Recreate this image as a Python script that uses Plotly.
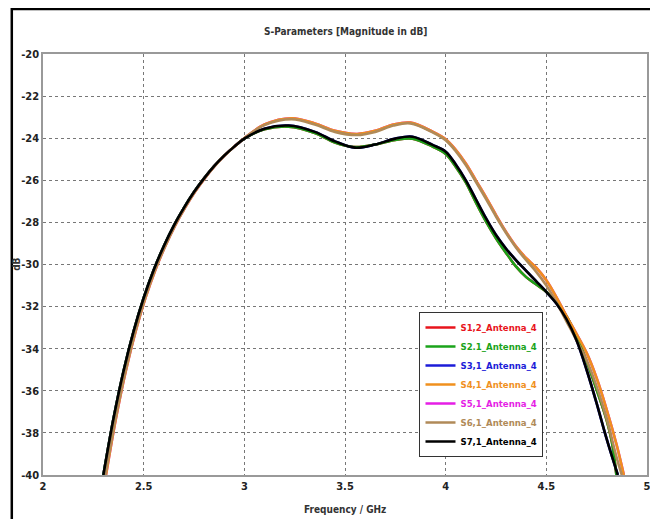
import plotly.graph_objects as go

# ---- data ----
f_left = [2.300, 2.350, 2.400, 2.450, 2.500, 2.550, 2.600, 2.650, 2.700, 2.750, 2.800, 2.850, 2.900, 2.950]
db_left = [-40, -37.33, -35.07, -33.18, -31.59, -30.26, -29.13, -28.15, -27.31, -26.56, -25.91, -25.33, -24.83, -24.40]

f_s71 = f_left + [3.000, 3.100, 3.220, 3.350, 3.450, 3.550, 3.650, 3.750, 3.835, 3.935,
                  4.000, 4.050, 4.100, 4.150, 4.200, 4.250, 4.300, 4.350, 4.400, 4.450, 4.500,
                  4.550, 4.600, 4.650, 4.700, 4.750, 4.800, 4.855]
s71 = db_left + [-24.02, -23.55, -23.4, -23.7, -24.15, -24.45, -24.3, -24.02, -23.93, -24.32,
                 -24.64, -25.25, -26.0, -26.9, -27.8, -28.6, -29.25, -29.8, -30.3, -30.8, -31.3,
                 -31.85, -32.6, -33.6, -35.0, -36.6, -38.3, -40]

f_s21 = f_left + [3.000, 3.100, 3.220, 3.350, 3.450, 3.550, 3.650, 3.750, 3.835, 3.935,
                  4.000, 4.050, 4.100, 4.150, 4.200, 4.250, 4.300, 4.350, 4.400, 4.450, 4.500,
                  4.550, 4.600, 4.650, 4.700, 4.750, 4.800, 4.825, 4.848]
s21 = db_left + [-24.02, -23.58, -23.45, -23.75, -24.2, -24.42, -24.3, -24.08, -24.02, -24.4,
                 -24.75, -25.35, -26.1, -27.05, -27.95, -28.75, -29.45, -30.1, -30.6, -30.95, -31.3,
                 -31.8, -32.45, -33.4, -34.6, -35.95, -37.4, -38.4, -40]

f_s41 = [2.313, 2.362, 2.411, 2.460, 2.509, 2.558, 2.607, 2.656, 2.705, 2.754, 2.803, 2.852, 2.901, 2.950,
         3.000, 3.100, 3.235, 3.350, 3.450, 3.560, 3.650, 3.740, 3.825, 3.935,
         4.000, 4.050, 4.100, 4.150, 4.200, 4.250, 4.300, 4.350, 4.400, 4.450, 4.500,
         4.550, 4.600, 4.650, 4.700, 4.750, 4.800, 4.850, 4.885]
s41 = db_left + [-24.0, -23.35, -23.05, -23.3, -23.65, -23.8, -23.65, -23.35, -23.26, -23.69,
                 -24.05, -24.55, -25.2, -26.0, -26.8, -27.65, -28.45, -29.15, -29.7, -30.15, -30.75,
                 -31.55, -32.45, -33.3, -34.2, -35.4, -36.9, -38.6, -40]

f_s61 = [2.310, 2.360, 2.409, 2.458, 2.507, 2.556, 2.606, 2.655, 2.704, 2.753, 2.802, 2.852, 2.901, 2.950,
         3.000, 3.100, 3.235, 3.350, 3.450, 3.560, 3.650, 3.740, 3.825, 3.935,
         4.000, 4.050, 4.100, 4.150, 4.200, 4.250, 4.300, 4.350, 4.400, 4.450, 4.500,
         4.550, 4.600, 4.650, 4.700, 4.750, 4.800, 4.850, 4.875]
s61 = db_left + [-24.0, -23.38, -23.1, -23.35, -23.7, -23.85, -23.7, -23.4, -23.3, -23.72,
                 -24.1, -24.62, -25.28, -26.07, -26.88, -27.72, -28.5, -29.2, -29.8, -30.35, -31.0,
                 -31.8, -32.7, -33.6, -34.55, -35.8, -37.35, -39.2, -40]

names = ["S1,2_Antenna_4", "S2.1_Antenna_4", "S3,1_Antenna_4", "S4,1_Antenna_4",
         "S5,1_Antenna_4", "S6,1_Antenna_4", "S7,1_Antenna_4"]
colors = ["#e8141c", "#1aa31a", "#1c1cd8", "#f0901e", "#e51ee5", "#b08a58", "#000000"]

x_ticks = [2, 2.5, 3, 3.5, 4, 4.5, 5]
y_ticks = [-20, -22, -24, -26, -28, -30, -32, -34, -36, -38, -40]

FONT = "DejaVu Sans Condensed, Liberation Sans Narrow, Arial Narrow, sans-serif"

fig = go.Figure()


def lbl(i):
    return "<b><span style='color:%s'>%s</span></b>" % (colors[i], names[i])


# traces hidden underneath the visible ones are drawn first
hidden = [(0, f_s21, s21), (2, f_s71, s71), (4, f_s41, s41)]
visible = [(1, f_s21, s21), (3, f_s41, s41), (5, f_s61, s61), (6, f_s71, s71)]
for i, fx, sy in hidden + visible:
    fig.add_trace(go.Scatter(
        x=fx, y=sy, mode="lines", name=lbl(i), legendrank=i + 1,
        line=dict(color=colors[i], width=2.6, shape="spline", smoothing=1.0)))

# page has an 8px body margin: figure is 650x511 so the plot area lands at x 43..643, y 54..475
fig.update_layout(
    width=650, height=511,
    margin=dict(l=35, r=7, t=46, b=44),
    paper_bgcolor="white", plot_bgcolor="white",
    font=dict(family=FONT, size=10, color="#222"),
    showlegend=True,
    legend=dict(x=(417 - 43) / 600, y=(475 - 312) / 421, xanchor="left", yanchor="top",
                bgcolor="white", bordercolor="#333", borderwidth=1,
                font=dict(family=FONT, size=9.5), tracegroupgap=0,
                itemwidth=30, traceorder="normal"),
    xaxis=dict(range=[2, 5], tickvals=x_ticks, ticktext=[f"<b>{v:g}</b>" for v in x_ticks],
               showgrid=True, gridcolor="#777", griddash="dot", gridwidth=1,
               showline=True, linecolor="#999", linewidth=1.5, mirror=True,
               ticks="", zeroline=False, tickfont=dict(family=FONT, size=11, color="#222")),
    yaxis=dict(range=[-40, -20], tickvals=y_ticks, ticktext=[f"<b>{v}</b>" for v in y_ticks],
               showgrid=True, gridcolor="#777", griddash="dot", gridwidth=1,
               showline=True, linecolor="#999", linewidth=1.5, mirror=True,
               ticks="", zeroline=False, tickfont=dict(family=FONT, size=11, color="#222")),
    annotations=[
        dict(text="<b>S-Parameters [Magnitude in dB]</b>", xref="paper", yref="paper",
             x=0.5, y=(475 - 31) / 421, xanchor="center", yanchor="middle", showarrow=False,
             font=dict(family=FONT, size=10, color="#333")),
        dict(text="<b>Frequency / GHz</b>", xref="paper", yref="paper",
             x=0.5, y=(475 - 509) / 421, xanchor="center", yanchor="middle", showarrow=False,
             font=dict(family=FONT, size=10, color="#333")),
        dict(text="<b>dB</b>", xref="paper", yref="paper", textangle=-90,
             x=(16 - 43) / 600, y=(475 - 264) / 421, xanchor="center", yanchor="middle", showarrow=False,
             font=dict(family=FONT, size=10, color="#333")),
    ],
    shapes=[
        dict(type="rect", xref="paper", yref="paper",
             x0=(12 - 43) / 600, x1=(651 - 43) / 600, y0=(475 - 530) / 421, y1=(475 - 9) / 421,
             line=dict(color="black", width=2.5), fillcolor="rgba(0,0,0,0)", layer="above"),
    ],
)

fig.write_html("out.html")
